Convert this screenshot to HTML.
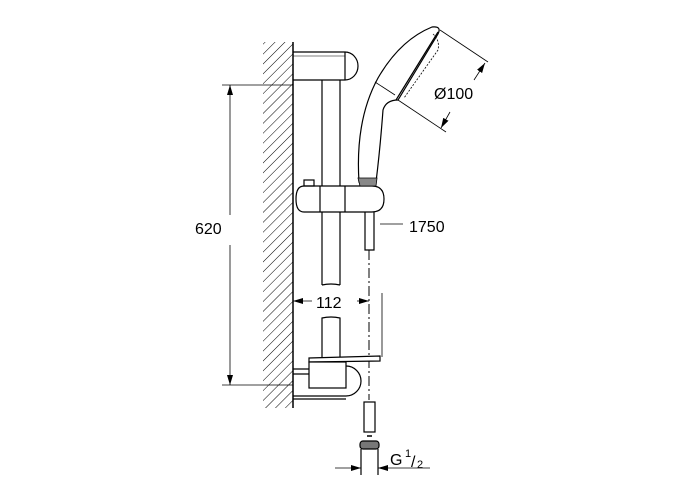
<!DOCTYPE html>
<html><head><style>body{margin:0;background:#fff}svg{display:block}</style></head><body>
<svg width="700" height="500" viewBox="0 0 700 500" xmlns="http://www.w3.org/2000/svg" font-family="Liberation Sans, sans-serif">
<defs>
<pattern id="h" width="7" height="7" patternUnits="userSpaceOnUse" patternTransform="rotate(45)">
<line x1="0" y1="0" x2="0" y2="7" stroke="#000" stroke-width="1"/></pattern>
<marker id="a" markerWidth="10" markerHeight="6" refX="10" refY="3" orient="auto" markerUnits="userSpaceOnUse"><path d="M0,0 L10,3 L0,6z" fill="#000"/></marker>
</defs>
<g fill="none" stroke="#000" stroke-width="1.2">
<rect x="263" y="42" width="30" height="366" fill="url(#h)" stroke="none"/>
<line x1="293" y1="42" x2="293" y2="408" stroke-width="1.5"/>
<path d="M293,52 L345,52 A13,14 0 0 1 345,80 L293,80"/>
<line x1="293" y1="56" x2="345" y2="56" stroke-width="0.6"/>
<line x1="345" y1="52" x2="345" y2="80"/>
<path d="M322,80 L322,285 M340,80 L340,285 M322,285 Q331,283 340,285"/>
<path d="M322,357 L322,318 Q331,316 340,318 L340,357"/>
<path d="M304,186 L372,186 Q384,186 384,199 Q384,212 372,212 L304,212 Q296,212 296,199 Q296,186 304,186z" fill="#fff"/>
<line x1="320" y1="186" x2="320" y2="212"/><line x1="345" y1="186" x2="345" y2="212"/>
<rect x="304" y="180" width="10" height="6"/>
<path d="M365,212 L365,250 L374,250 L374,212"/>
<line x1="369" y1="250" x2="369" y2="400" stroke-dasharray="10,3,2,3" stroke-width="1"/>
<path d="M359,182 Q355,120 378,78 Q400,40 432,27 Q442,26 438,34 L398,100 Q386,100 383,110 Q380,150 376,182z" fill="#fff"/>
<path d="M438,32 L396,100" />
<path d="M433,34 Q440,40 438,50 L404,98" stroke-width="0.8" stroke-dasharray="2,1.5"/>
<path d="M358,178 L377,178 L376,186 L360,186z" fill="#888" stroke-width="0.8"/>
<line x1="375" y1="82" x2="395" y2="95" stroke-width="0.8"/>
<line x1="440" y1="30" x2="488" y2="62" stroke-width="0.8"/>
<line x1="398" y1="100" x2="446" y2="132" stroke-width="0.8"/>
<line x1="474" y1="80" x2="485" y2="63" stroke-width="0.8" marker-end="url(#a)"/>
<line x1="450" y1="112" x2="441" y2="128" stroke-width="0.8" marker-end="url(#a)"/>
<line x1="380" y1="224" x2="403" y2="224" stroke-width="0.8"/>
<line x1="222" y1="85" x2="293" y2="85" stroke-width="0.8"/>
<line x1="222" y1="385" x2="293" y2="385" stroke-width="0.8"/>
<line x1="230" y1="215" x2="230" y2="85" stroke-width="0.8" marker-end="url(#a)"/>
<line x1="230" y1="245" x2="230" y2="385" stroke-width="0.8" marker-end="url(#a)"/>
<line x1="382" y1="293" x2="382" y2="357" stroke-width="0.8"/>
<line x1="312" y1="301" x2="293" y2="301" stroke-width="0.8" marker-end="url(#a)"/>
<line x1="357" y1="301" x2="369" y2="301" stroke-width="0.8" marker-end="url(#a)"/>
<path d="M309,358 L380,356 L380,361 L309,362z" fill="#fff"/>
<rect x="309" y="362" width="37" height="26" fill="#fff"/>
<path d="M346,366 A14,14 0 0 1 346,396"/>
<path d="M293,369 L309,369 M293,374 L309,374"/>
<path d="M293,396 L346,396 M293,399 L346,399"/>
<rect x="364" y="402" width="11" height="30" fill="#fff"/>
<line x1="367" y1="436" x2="372" y2="436" stroke-width="1.5"/>
<rect x="360" y="441" width="19" height="8" fill="#777" rx="3"/>
<path d="M361,449 L361,475 M378,449 L378,475"/>
<line x1="335" y1="468" x2="361" y2="468" stroke-width="0.8" marker-end="url(#a)"/>
<line x1="430" y1="468" x2="378" y2="468" stroke-width="0.8" marker-end="url(#a)"/>
</g>
<g font-size="16" fill="#000">
<text x="195" y="234">620</text>
<text x="409" y="232">1750</text>
<text x="316" y="308">112</text>
<text x="434" y="99">Ø100</text>
<text x="390" y="465">G</text>
<text x="405" y="457" font-size="11">1</text>
<text x="411" y="467">/</text>
<text x="417" y="468" font-size="11">2</text>
</g>
</svg>
</body></html>
